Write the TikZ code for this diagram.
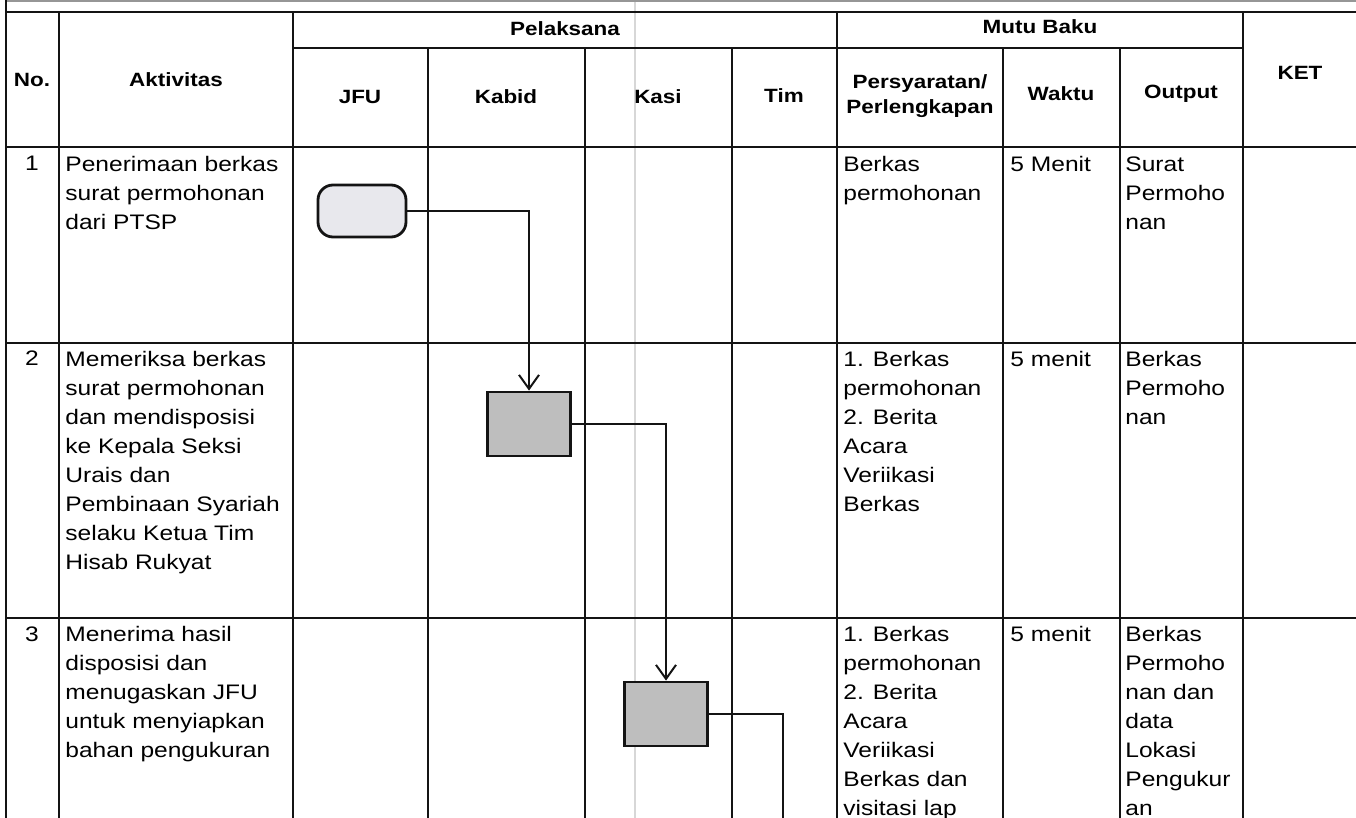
\documentclass[tikz,border=0pt]{standalone}
\usepackage{fontspec}
\setmainfont{Liberation Sans}[FakeStretch=1.17]
\usepackage{tikz}
\usetikzlibrary{
  arrows.meta
}
\definecolor{sopLine}{RGB}{20,20,20}
\definecolor{sopTerm}{RGB}{232,232,237}
\definecolor{sopBox}{RGB}{190,190,190}
\definecolor{sopFold}{RGB}{215,215,215}
\tikzset{
  sopGrid/.style={
    draw=sopLine,
    line width=1.2pt
  },
  sopHead/.style={
    font=\bfseries\fontsize{9.6}{12.5}\selectfont,
    align=center,
    inner sep=0pt
  },
  sopCell/.style={
    font=\fontsize{10.5}{14.5}\selectfont,
    align=left,
    anchor=north west,
    inner sep=0pt
  },
  sopNum/.style={
    font=\fontsize{10.5}{14.5}\selectfont,
    anchor=base,
    inner sep=0pt
  },
  sopTerminal/.style={
    rectangle,
    rounded corners=7.5pt,
    draw=sopLine,
    fill=sopTerm,
    line width=1.4pt,
    minimum width=44pt,
    minimum height=26pt,
    inner sep=0pt
  },
  sopProcess/.style={
    rectangle,
    draw=sopLine,
    fill=sopBox,
    line width=1.4pt,
    minimum width=41.5pt,
    minimum height=32pt,
    inner sep=0pt
  },
  sopArrow/.style={
    -{Straight Barb[length=7pt,width=10pt]},
    line width=1pt,
    draw=sopLine
  },
  sopFlow/.style={
    line width=1pt,
    draw=sopLine
  }
}
\begin{document}
\begin{tikzpicture}[x=0.5pt, y=-0.5pt]
  \useasboundingbox (0,0) rectangle (1356,818);

  \draw[sopFold, line width=0.6pt] (635,0) -- (635,818);
  \draw[sopFold!70!black, line width=0.6pt] (6,1) -- (1356,1);

  \draw[sopGrid] (6,12) -- (1356,12);
  \draw[sopGrid] (293,48) -- (1243,48);
  \draw[sopGrid] (6,147) -- (1356,147);
  \draw[sopGrid] (6,343) -- (1356,343);
  \draw[sopGrid] (6,618) -- (1356,618);

  \draw[sopGrid] (6,0) -- (6,818);
  \draw[sopGrid] (59,12) -- (59,818);
  \draw[sopGrid] (293,12) -- (293,818);
  \draw[sopGrid] (428,48) -- (428,818);
  \draw[sopGrid] (585,48) -- (585,818);
  \draw[sopGrid] (732,48) -- (732,818);
  \draw[sopGrid] (837,12) -- (837,818);
  \draw[sopGrid] (1003,48) -- (1003,818);
  \draw[sopGrid] (1120,48) -- (1120,818);
  \draw[sopGrid] (1243,12) -- (1243,818);

  \node[sopHead] (headNo) at (32,80) {No.};
  \node[sopHead] (headAktivitas) at (176,80) {Aktivitas};
  \node[sopHead] (headPelaksana) at (565,29) {Pelaksana};
  \node[sopHead] (headMutu) at (1040,27) {Mutu Baku};
  \node[sopHead] (headJfu) at (360,97) {JFU};
  \node[sopHead] (headKabid) at (506,97) {Kabid};
  \node[sopHead] (headKasi) at (658,97) {Kasi};
  \node[sopHead] (headTim) at (784,96) {Tim};
  \node[sopHead] (headSyarat) at (920,96) {Persyaratan/\\Perlengkapan};
  \node[sopHead] (headWaktu) at (1061,94) {Waktu};
  \node[sopHead] (headOutput) at (1181,94) {Output};
  \node[sopHead] (headKet) at (1300,73) {KET};

  \node[sopNum] (no1) at (32,171) {1};
  \node[sopCell] (aktivitas1) at (65,156)
    {Penerimaan berkas\\surat permohonan\\dari PTSP};
  \node[sopCell] (syarat1) at (843,156) {Berkas\\permohonan};
  \node[sopCell] (waktu1) at (1010,156) {5 Menit};
  \node[sopCell] (output1) at (1125,156) {Surat\\Permoho\\nan};

  \node[sopNum] (no2) at (32,366) {2};
  \node[sopCell] (aktivitas2) at (65,351)
    {Memeriksa berkas\\surat permohonan\\dan mendisposisi\\ke Kepala Seksi\\Urais dan\\Pembinaan Syariah\\selaku Ketua Tim\\Hisab Rukyat};
  \node[sopCell] (syarat2) at (843,351)
    {1. Berkas\\permohonan\\2. Berita\\Acara\\Veriikasi\\Berkas};
  \node[sopCell] (waktu2) at (1010,351) {5 menit};
  \node[sopCell] (output2) at (1125,351) {Berkas\\Permoho\\nan};

  \node[sopNum] (no3) at (32,641) {3};
  \node[sopCell] (aktivitas3) at (65,626)
    {Menerima hasil\\disposisi dan\\menugaskan JFU\\untuk menyiapkan\\bahan pengukuran};
  \node[sopCell] (syarat3) at (843,626)
    {1. Berkas\\permohonan\\2. Berita\\Acara\\Veriikasi\\Berkas dan\\visitasi lap};
  \node[sopCell] (waktu3) at (1010,626) {5 menit};
  \node[sopCell] (output3) at (1125,626)
    {Berkas\\Permoho\\nan dan\\data\\Lokasi\\Pengukur\\an};

  \node[sopTerminal] (startJfu) at (362,211) {};
  \node[sopProcess] (kabidBox) at (529,424) {};
  \node[sopProcess] (kasiBox) at (666,714) {};
  \coordinate (timDown) at (783,818);

  \draw[sopArrow] (startJfu.east) -| (kabidBox.north);
  \draw[sopArrow] (kabidBox.east) -| (kasiBox.north);
  \draw[sopFlow] (kasiBox.east) -| (timDown);
\end{tikzpicture}
\end{document}
